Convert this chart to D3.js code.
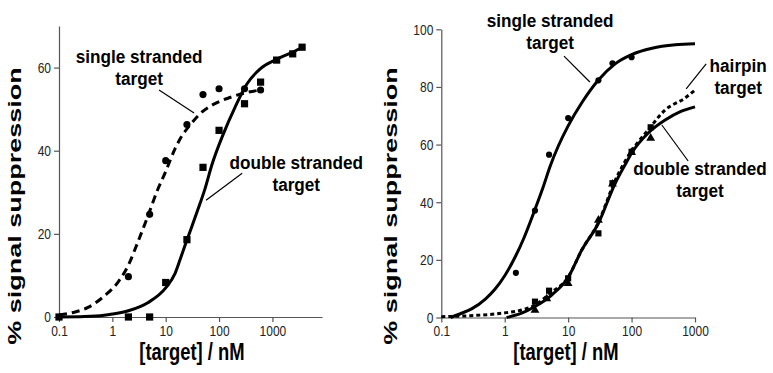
<!DOCTYPE html>
<html>
<head>
<meta charset="utf-8">
<script src="https://cdn.jsdelivr.net/npm/d3@7/dist/d3.min.js"></script>
<style>
  body { margin: 0; background: #fff; }
  svg { display: block; font-family: 'Liberation Sans', Arial, sans-serif; }
</style>
</head>
<body>
<svg id="chart" width="773" height="373"></svg>
<script>
// ---- data ----
const xTicks = [0.1, 1, 10, 100, 1000]
const leftYTicks = [0, 20, 40, 60]
const rightYTicks = [0, 20, 40, 60, 80, 100]

// left panel: measured points
const leftSingle = [[2, 9.7], [5, 24.7], [10, 37.6], [25, 46.3], [50, 53.5], [100, 54.9], [300, 54.9], [600, 54.6]]
const leftDouble = [[0.1, 0], [2, 0], [5, 0], [10, 8.3], [25, 18.6], [50, 36], [100, 44.9], [300, 51.3], [600, 56.5], [1200, 61.8], [2400, 63.3], [3600, 64.9]]
// left panel: fitted curves (traced)
const leftSingleFit = [[0.1, 0.5], [0.2, 1.2], [0.35, 2.3], [0.7, 5], [1.3, 8.5], [2, 12.5], [3, 18], [4.7, 24.5], [7, 30.5], [10, 35], [15, 40.5], [20, 43.5], [30, 46.5], [45, 49], [80, 51.2], [160, 52.8], [330, 54], [600, 54.6]]
const leftDoubleFit = [[0.1, 0], [0.3, 0.1], [0.7, 0.4], [1, 0.7], [2, 1.5], [4.7, 3.5], [10, 7], [15, 10.5], [20, 15], [25, 18.5], [38, 25], [55, 31], [73, 36.5], [120, 44], [200, 50.5], [330, 56], [590, 59.7], [1200, 62], [2300, 63.6], [3600, 64.9]]

// right panel: measured points
const rightSingle = [[1.5, 15.5], [3, 37.1], [5, 56.5], [10, 69.2], [30, 82.3], [50, 88.2], [100, 90.3]]
const rightHairpin = [[3, 5.5], [5, 9.3], [10, 13.6], [30, 29.2], [50, 46.6], [100, 57.5], [200, 66]]
const rightDouble = [[3, 2.5], [4.6, 6.5], [10, 11.8], [30, 33.8], [50, 46.3], [100, 57.3], [200, 62.2]]
// right panel: fitted curves (traced)
const rightSingleFit = [[0.14, 0], [0.2, 1.3], [0.3, 3], [0.5, 6.5], [0.7, 9.8], [1, 14.5], [1.5, 21.5], [2, 27.5], [3, 37.5], [4, 45], [5.2, 52.5], [7, 59.5], [10, 66.5], [16.4, 74.5], [30, 82.4], [55, 88], [100, 91.2], [210, 93.4], [490, 94.6], [1000, 95]]
const rightHairpinFit = [[0.1, 0.3], [0.27, 0.6], [0.9, 1.5], [1.85, 2.6], [3, 4.3], [5.2, 8.4], [10, 14], [16.4, 23.4], [30, 33], [55, 47.5], [100, 57.8], [183, 65.1], [338, 72], [690, 76.1], [1000, 78.9]]
const rightDoubleFit = [[1.07, 0], [1.85, 1.5], [3, 3.8], [5.5, 7.8], [10, 13.9], [16.4, 23.4], [30, 32.7], [55, 46.5], [79, 53], [100, 57], [183, 64], [338, 68.5], [600, 71.5], [1000, 73.1]]

// annotations, anchored in data units
const leftNotes = [
  { lines: ['single stranded', 'target'], at: [3.17, 61.2], leader: [[7.5, 54.6], [34, 49.1]] },
  { lines: ['double stranded', 'target'], at: [2800, 35.6], leader: [[271, 34.6], [57, 28.1]] }
]
const rightNotes = [
  { lines: ['single stranded', 'target'], at: [5.2, 100.9], leader: [[8.6, 90.7], [22, 81.7]] },
  { lines: ['hairpin', 'target'], at: [4800, 85.3], leader: [[1500, 88], [725, 79.3]] },
  { lines: ['double stranded', 'target'], at: [1200, 49.4], leader: [[300, 66.8], [780, 54.3]] }
]

const svg = d3.select('#chart')

// squeeze text horizontally, the scan is narrower than the font
const squeeze = (sel, k) => sel.each(function () {
  const w = this.getComputedTextLength()
  d3.select(this).attr('textLength', w * k).attr('lengthAdjust', 'spacingAndGlyphs')
})

class Panel {
  constructor(cfg) {
    this.cfg = cfg
    this.x = d3.scaleLog().domain(cfg.xDomain).range(cfg.xRange)
    this.y = d3.scaleLinear().domain(cfg.yDomain).range(cfg.yRange)
    this.g = svg.append('g')
    this.drawAxes()
  }

  drawAxes = () => {
    const { x, y, cfg } = this
    const xa = this.g.append('g')
      .attr('transform', `translate(0, ${cfg.yRange[0]})`)
      .call(d3.axisBottom(x).tickValues(xTicks).tickFormat(d => String(d)).tickSize(5).tickSizeOuter(0).tickPadding(3))
    const ya = this.g.append('g')
      .attr('transform', `translate(${cfg.xRange[0]}, 0)`)
      .call(d3.axisLeft(y).tickValues(cfg.yTicks).tickSize(5).tickSizeOuter(0).tickPadding(3))

    for (const a of [xa, ya]) {
      a.select('.domain').attr('stroke', '#555').attr('stroke-width', 1.2)
      a.selectAll('.tick line').attr('stroke', '#555').attr('stroke-width', 1.2)
      a.selectAll('.tick text').attr('font-size', 15).attr('fill', '#222').attr('font-family', 'Liberation Sans, Arial, sans-serif')
        .call(squeeze, 0.8)
    }

    this.g.append('text')
      .text('[target] / nM')
      .attr('x', cfg.xTitleX).attr('y', 360)
      .attr('text-anchor', 'middle')
      .attr('font-size', 23).attr('font-weight', 'bold')
      .call(squeeze, 0.8)

    // rotated title: full length along the axis, thin across it
    this.g.append('text')
      .text('% signal suppression')
      .attr('transform', `translate(${cfg.yTitleX}, 206) rotate(-90) scale(1, 0.7)`)
      .attr('text-anchor', 'middle')
      .attr('font-size', 27).attr('font-weight', 'bold')
  }

  curve = (pts, width, dash) => {
    const line = d3.line()
      .x(d => this.x(d[0]))
      .y(d => this.y(d[1]))
      .curve(d3.curveMonotoneX)
    this.g.append('path')
      .datum(pts)
      .attr('d', line)
      .attr('fill', 'none')
      .attr('stroke', '#000')
      .attr('stroke-width', width)
      .attr('stroke-dasharray', dash)
  }

  markers = (pts, type, size) => {
    this.g.append('g')
      .selectAll('path')
      .data(pts)
      .join('path')
      .attr('transform', d => `translate(${this.x(d[0])}, ${this.y(d[1])})`)
      .attr('d', d3.symbol().type(type).size(size))
      .attr('fill', '#000')
  }

  notes = (list) => {
    list.forEach(n => {
      const [cx, cy] = [this.x(n.at[0]), this.y(n.at[1])]
      n.lines.forEach((t, i) => {
        this.g.append('text')
          .text(t)
          .attr('x', cx).attr('y', cy + i * 22)
          .attr('text-anchor', 'middle')
          .attr('font-size', 17.5).attr('font-weight', 'bold')
          .call(squeeze, 0.98)
      })
      this.g.append('line')
        .attr('x1', this.x(n.leader[0][0])).attr('y1', this.y(n.leader[0][1]))
        .attr('x2', this.x(n.leader[1][0])).attr('y2', this.y(n.leader[1][1]))
        .attr('stroke', '#000').attr('stroke-width', 1.2)
    })
  }
}

// left panel
const left = new Panel({
  xDomain: [0.1, 8500], xRange: [59, 322],
  yDomain: [0, 70], yRange: [317, 26],
  yTicks: leftYTicks, xTitleX: 192, yTitleX: 21
})
left.curve(leftSingleFit, 3, '8,5')
left.curve(leftDoubleFit, 3, null)
left.markers(leftSingle, d3.symbolCircle, 40)
left.markers(leftDouble, d3.symbolSquare, 52)
left.notes(leftNotes)

// right panel
const right = new Panel({
  xDomain: [0.1, 1000], xRange: [441.3, 695],
  yDomain: [0, 100], yRange: [317.5, 29.3],
  yTicks: rightYTicks, xTitleX: 566, yTitleX: 397
})
right.curve(rightSingleFit, 3, null)
right.curve(rightHairpinFit, 3, '4,3')
right.curve(rightDoubleFit, 3, null)
right.markers(rightSingle, d3.symbolCircle, 30)
right.markers(rightHairpin, d3.symbolSquare, 38)
right.markers(rightDouble, d3.symbolTriangle, 34)
right.notes(rightNotes)
</script>
</body>
</html>
